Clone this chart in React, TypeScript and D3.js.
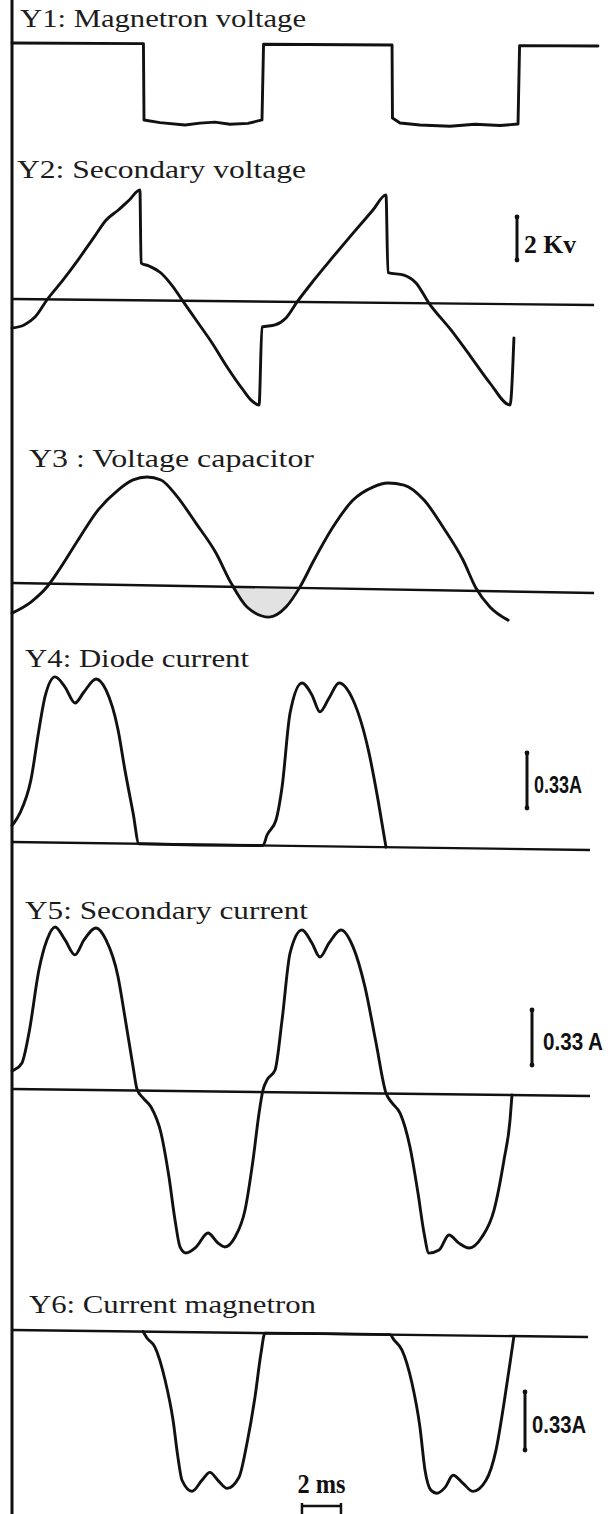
import React from 'react';
import * as d3 from 'd3';

type Pt = [number, number];

// ---------- DATA (time in ms, voltages in kV, currents in A) ----------
const timeDomainMs: [number, number] = [0, 30];

const panelTitles = [
  'Y1: Magnetron voltage',
  'Y2: Secondary voltage',
  'Y3 : Voltage capacitor',
  'Y4: Diode current',
  'Y5: Secondary current',
  'Y6: Current magnetron',
];

const magnetronVoltage: Pt[] = [
  [0, 0], [6.74, 0], [6.77, -3.55], [7.59, -3.67], [8.87, -3.77], [9.64, -3.68],
  [10.41, -3.63], [11.18, -3.73], [12.1, -3.68], [12.82, -3.52], [12.9, 0],
  [19.49, 0], [19.51, -3.4], [19.9, -3.63], [20.92, -3.72], [22.46, -3.77],
  [23.74, -3.67], [25.03, -3.72], [25.95, -3.65], [26.03, 0], [30.05, 0],
];

const secondaryVoltage: Pt[] = [
  [0, -1.35], [0.62, -1.2], [1.18, -0.83], [1.79, -0.03], [2.62, 0.91], [3.38, 1.84],
  [4.21, 2.92], [4.82, 3.71], [5.44, 4.18], [6.0, 4.65], [6.56, 5.13], [6.62, 1.73],
  [7.03, 1.6], [7.64, 1.28], [8.26, 0.64], [8.72, 0.04], [9.44, -0.89], [10.26, -1.95],
  [11.03, -3.06], [11.85, -4.12], [12.26, -4.59], [12.67, -4.81], [12.82, -1.18],
  [13.49, -1.08], [14.05, -0.75], [14.62, 0.0], [15.49, 1.03], [16.46, 2.11],
  [17.49, 3.23], [18.51, 4.31], [19.18, 5.02], [19.28, 1.41], [20.1, 1.3], [20.72, 0.94],
  [21.38, 0.01], [22.51, -1.23], [23.54, -2.48], [24.51, -3.68], [25.54, -4.69],
  [25.74, -1.57],
];

const capacitorVoltage: Pt[] = [
  [0, -1.4], [0.97, -0.87], [1.79, -0.16], [2.41, 0.64], [3.38, 2.04], [4.41, 3.46],
  [5.44, 4.41], [6.21, 4.89], [6.92, 5.04], [7.64, 4.91], [8.41, 4.22], [9.44, 2.92],
  [10.46, 1.56], [11.23, 0.18], [12.05, -0.93], [13.18, -1.38], [14.05, -0.9],
  [14.77, 0.05], [15.49, 1.31], [16.46, 2.86], [17.49, 4.13], [18.51, 4.75],
  [19.28, 4.95], [20.1, 4.87], [21.13, 4.19], [22.1, 2.95], [23.13, 1.43],
  [23.79, 0.14], [24.51, -0.73], [25.44, -1.33],
];

const capacitorNegativeLobe: Pt[] = [
  [11.23, 0], [12.05, -0.93], [13.18, -1.38], [14.05, -0.9], [14.77, 0],
];

const diodeCurrent: Pt[] = [
  [0, 0.1], [0.1, 0.114], [0.41, 0.175], [0.97, 0.374], [1.38, 0.674], [1.69, 0.873],
  [2.21, 0.994], [2.72, 0.934], [3.23, 0.839], [3.69, 0.906], [4.31, 0.985],
  [4.82, 0.92], [5.44, 0.681], [5.79, 0.442], [6.21, 0.184], [6.51, 0],
  [12.87, 0], [13.08, 0.063], [13.54, 0.154], [13.85, 0.352], [14.26, 0.797],
  [14.87, 0.978], [15.38, 0.907], [15.79, 0.806], [16.26, 0.89], [16.77, 0.981],
  [17.49, 0.88], [18.31, 0.563], [18.77, 0.283], [19.18, 0],
];

const secondaryCurrent: Pt[] = [
  [0, 0.108], [0.1, 0.114], [0.51, 0.157], [0.87, 0.337], [1.38, 0.716], [1.79, 0.896],
  [2.21, 0.975], [2.72, 0.898], [3.23, 0.809], [3.69, 0.899], [4.31, 0.972],
  [4.82, 0.901], [5.44, 0.68], [5.79, 0.44], [6.21, 0.141], [6.41, 0.009],
  [6.72, -0.044], [7.13, -0.098], [7.64, -0.253], [8.05, -0.517], [8.36, -0.774],
  [8.62, -0.936], [8.92, -0.971], [9.44, -0.935], [10.05, -0.85], [10.56, -0.909],
  [10.92, -0.932], [11.44, -0.872], [11.95, -0.709], [12.36, -0.409], [12.67, -0.126],
  [12.87, 0.012], [13.08, 0.073], [13.49, 0.133], [13.85, 0.434], [14.26, 0.836],
  [14.87, 0.975], [15.38, 0.898], [15.79, 0.814], [16.26, 0.899], [16.87, 0.978],
  [17.49, 0.877], [18.1, 0.638], [18.67, 0.302], [19.18, 0.003], [19.49, -0.056],
  [19.9, -0.116], [20.41, -0.319], [20.82, -0.595], [21.13, -0.834], [21.38, -0.954],
  [21.9, -0.935], [22.41, -0.844], [22.92, -0.892], [23.44, -0.921], [24.1, -0.854],
  [24.72, -0.691], [25.23, -0.39], [25.54, -0.15], [25.64, 0],
];

const magnetronCurrent: Pt[] = [
  [6.72, 0], [6.92, -0.036], [7.33, -0.087], [7.85, -0.274], [8.26, -0.502],
  [8.51, -0.713], [8.72, -0.843], [9.23, -0.905], [9.74, -0.842], [10.15, -0.796],
  [10.56, -0.841], [11.03, -0.886], [11.64, -0.822], [12.05, -0.628], [12.46, -0.365],
  [12.77, -0.114], [12.97, 0], [19.38, 0], [19.59, -0.03], [20.0, -0.087],
  [20.51, -0.274], [20.92, -0.524], [21.18, -0.769], [21.49, -0.883], [21.79, -0.899],
  [22.21, -0.865], [22.62, -0.796], [23.13, -0.841], [23.64, -0.886], [24.31, -0.822],
  [24.82, -0.65], [25.23, -0.382], [25.54, -0.153], [25.74, 0],
];

const baselineEndsMs = [null, 29.85, 29.85, 29.64, 29.64, 29.54];

const scaleBarLabels = ['2 Kv', '0.33A', '0.33 A', '0.33A'];
const scaleBarValues = [2, 0.33, 0.33, 0.33];
const timeBarLabel = '2 ms';
const timeBarValueMs = 2;
const timeBarStartMs = 14.87;

// ---------- LAYOUT ----------
const W = 613;
const H = 1514;
const AXIS_X = 12;
const xScale = d3.scaleLinear().domain(timeDomainMs).range([AXIS_X, 597]);

const serif = "'Liberation Serif', 'Times New Roman', Times, serif";
const narrow = "'Liberation Sans Narrow', 'Arial Narrow', 'Liberation Sans', Arial, sans-serif";

interface ScaleBarLayout { x: number; bottom: number; tx: number; ty: number; tw: number; size: number; font: string; }
interface PanelLayout {
  data: Pt[]; zeroY: number; pxPerUnit: number; slope: number;
  tx: number; ty: number; tw: number; linear?: boolean; bar?: { idx: number } & ScaleBarLayout;
}

const panels: PanelLayout[] = [
  { data: magnetronVoltage, zeroY: 43, pxPerUnit: 21.5, slope: 0.0051, tx: 20, ty: 27, tw: 286, linear: true },
  { data: secondaryVoltage, zeroY: 299, pxPerUnit: 21.5, slope: 0.0103, tx: 17, ty: 178, tw: 289,
    bar: { idx: 0, x: 517, bottom: 260, tx: 524, ty: 253, tw: 52, size: 25, font: serif } },
  { data: capacitorVoltage, zeroY: 583, pxPerUnit: 21.5, slope: 0.0172, tx: 29, ty: 467, tw: 285 },
  { data: diodeCurrent, zeroY: 842, pxPerUnit: 166.7, slope: 0.0138, tx: 25, ty: 667, tw: 224,
    bar: { idx: 1, x: 527, bottom: 808, tx: 534, ty: 793, tw: 48, size: 23, font: narrow } },
  { data: secondaryCurrent, zeroY: 1089, pxPerUnit: 166.7, slope: 0.0121, tx: 25, ty: 919, tw: 283,
    bar: { idx: 2, x: 532, bottom: 1065, tx: 543, ty: 1050, tw: 60, size: 23, font: narrow } },
  { data: magnetronCurrent, zeroY: 1330, pxPerUnit: 175.8, slope: 0.0122, tx: 29, ty: 1313, tw: 287,
    bar: { idx: 3, x: 525, bottom: 1450, tx: 532, ty: 1433, tw: 54, size: 23, font: narrow } },
];

const INK = '#111';

function Panel({ p, i }: { p: PanelLayout; i: number }) {
  const yScale = d3.scaleLinear().domain([0, 1]).range([p.zeroY, p.zeroY - p.pxPerUnit]);
  const px = (d: Pt) => xScale(d[0]);
  const py = (d: Pt) => yScale(d[1]) + p.slope * (xScale(d[0]) - AXIS_X);
  const line = d3.line<Pt>().x(px).y(py).curve(p.linear ? d3.curveLinear : d3.curveMonotoneX);
  const end = baselineEndsMs[i];
  const baseline: Pt[] | null = end == null ? null : [[0, 0], [end, 0]];
  let fillPath: string | null = null;
  if (i === 2) {
    const area = d3.area<Pt>().x(px).y0((d) => py([d[0], 0])).y1(py).curve(d3.curveMonotoneX);
    fillPath = area(capacitorNegativeLobe);
  }
  const bar = p.bar;
  let barEl = null;
  if (bar) {
    const len = yScale(0) - yScale(scaleBarValues[bar.idx]);
    const top = bar.bottom - len;
    barEl = (
      <g>
        <line x1={bar.x} x2={bar.x} y1={top} y2={bar.bottom} stroke={INK} strokeWidth={3} />
        <circle cx={bar.x} cy={top} r={2.4} fill={INK} />
        <circle cx={bar.x} cy={bar.bottom} r={2.4} fill={INK} />
        <text x={bar.tx} y={bar.ty} fontFamily={bar.font} fontWeight="bold" fontSize={bar.size}
          fill={INK} textLength={bar.tw} lengthAdjust="spacingAndGlyphs">{scaleBarLabels[bar.idx]}</text>
      </g>
    );
  }
  return (
    <g>
      <text x={p.tx} y={p.ty} fontFamily={serif} fontSize={25} fill="#1c1c1c"
        textLength={p.tw} lengthAdjust="spacingAndGlyphs">{panelTitles[i]}</text>
      {fillPath && <path d={fillPath} fill="#e2e2e2" stroke="none" />}
      {baseline && <path d={d3.line<Pt>().x(px).y(py)(baseline) || ''} fill="none" stroke={INK} strokeWidth={2.4} />}
      <path d={line(p.data) || ''} fill="none" stroke={INK} strokeWidth={2.9} strokeLinejoin="round" strokeLinecap="round" />
      {barEl}
    </g>
  );
}

export default function App() {
  const tx0 = xScale(timeBarStartMs);
  const tx1 = xScale(timeBarStartMs + timeBarValueMs);
  return (
    <svg width={W} height={H} viewBox={`0 0 ${W} ${H}`}
      style={{ position: 'absolute', left: 0, top: 0, display: 'block', background: '#fff' }}>
      <rect x={0} y={0} width={W} height={H} fill="#fff" />
      <line x1={AXIS_X} x2={AXIS_X} y1={0} y2={H} stroke={INK} strokeWidth={3} />
      {panels.map((p, i) => <Panel key={i} p={p} i={i} />)}
      <text x={(tx0 + tx1) / 2} y={1493} textAnchor="middle" fontFamily={serif} fontWeight="bold"
        fontSize={27} fill={INK} textLength={48} lengthAdjust="spacingAndGlyphs">{timeBarLabel}</text>
      <line x1={tx0} x2={tx1} y1={1506} y2={1506} stroke={INK} strokeWidth={2.5} />
      <line x1={tx0} x2={tx0} y1={1503} y2={1514} stroke={INK} strokeWidth={2.5} />
      <line x1={tx1} x2={tx1} y1={1503} y2={1514} stroke={INK} strokeWidth={2.5} />
    </svg>
  );
}
